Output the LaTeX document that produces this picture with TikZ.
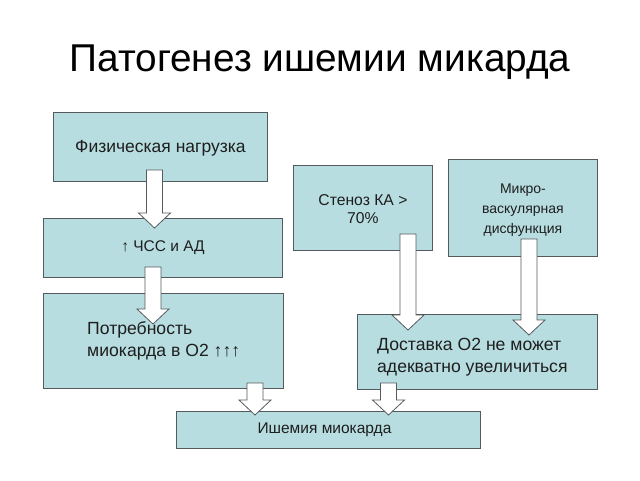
\documentclass[tikz,border=0pt]{standalone}
\usepackage{fontspec}
\setmainfont{Liberation Sans}
\definecolor{boxfill}{RGB}{183,221,224}
\definecolor{boxborder}{RGB}{85,90,92}
\definecolor{txt}{RGB}{30,30,30}
\newcommand\barrow[4]{% x, y start, y tip, name
  \draw[arr] (#1-8,#2) -- (#1+8,#2) -- (#1+8,#3-15) -- (#1+16,#3-15) -- (#1,#3) -- (#1-16,#3-15) -- (#1-8,#3-15) -- cycle;
  \coordinate (#4) at (#1,#3);}
\begin{document}
\begin{tikzpicture}[x=1pt,y=-1pt,
  box/.style={draw=boxborder, fill=boxfill, line width=0.9pt, inner sep=0pt, anchor=north west, text=txt},
  arr/.style={draw=boxborder, fill=white, line width=0.8pt, line join=miter},
  t1/.style={font=\fontsize{15.5}{19}\selectfont},
  t2/.style={font=\fontsize{14}{20}\selectfont, align=center},
  t3/.style={font=\fontsize{17.6}{22}\selectfont, align=left}]
\useasboundingbox (0,0) rectangle (640,480);
\fill[white] (0,0) rectangle (640,480);
\node[font=\fontsize{38.8}{44}\selectfont, text=black] (title) at (320,62) {Патогенез ишемии микарда};
% boxes
\node[box, minimum width=214pt, minimum height=69pt] (fiz) at (53,112) {};
\node[font=\fontsize{17.5}{20}\selectfont, text=txt] at ([yshift=-1pt]fiz.center) {Физическая нагрузка};
\node[box, minimum width=239pt, minimum height=59pt] (chss) at (43,218) {};
\node[t1, text=txt] at (chss.center) {↑ ЧСС и АД};
\node[box, minimum width=240pt, minimum height=95pt] (potr) at (43,293) {};
\node[t3, text=txt, anchor=west, inner sep=0pt] at ([xshift=44pt]potr.west) {Потребность\\миокарда в О2 ↑↑↑};
\node[box, minimum width=139pt, minimum height=85pt] (sten) at (293,165) {};
\node[font=\fontsize{15.7}{18}\selectfont, align=center, text=txt] at ([yshift=-1.5pt]sten.center) {Стеноз КА >\\70\%};
\node[box, minimum width=149pt, minimum height=97pt] (mikro) at (448,159) {};
\node[t2, text=txt] at ([yshift=-2.5pt]mikro.center) {Микро-\\васкулярная\\дисфункция};
\node[box, minimum width=240pt, minimum height=75pt] (dost) at (357,314) {};
\node[t3, text=txt, anchor=west, inner sep=0pt] at ([xshift=20pt,yshift=-5pt]dost.west) {Доставка О2 не может\\адекватно увеличиться};
\node[box, minimum width=304pt, minimum height=37pt] (ish) at (176,411) {};
\node[t1, text=txt] at ([xshift=-4pt]ish.center) {Ишемия миокарда};
% block arrows
\barrow{154.5}{170}{228}{a1}
\barrow{153}{267}{324}{a2}
\barrow{408}{234}{330}{a3}
\barrow{529}{239}{335}{a4}
\barrow{255}{383}{415}{a5}
\barrow{388.5}{383}{415}{a6}
\end{tikzpicture}
\end{document}
